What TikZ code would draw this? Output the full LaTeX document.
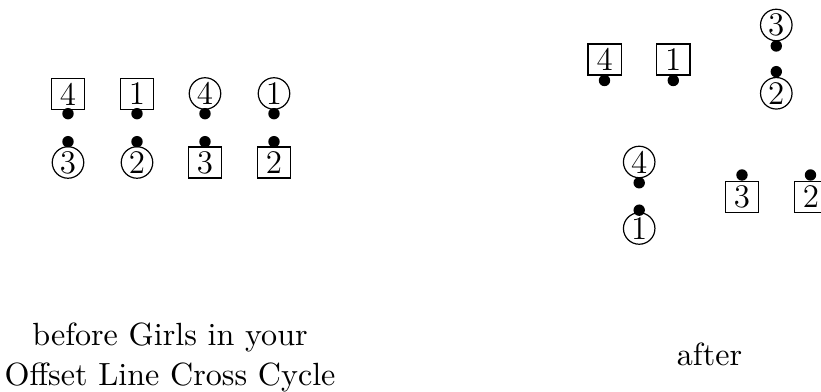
\documentclass[tikz,border=0pt]{standalone}
\begin{document}
\begin{tikzpicture}[x=0.3333pt,y=-0.3333pt,
  sq/.style={draw,rectangle,inner sep=0pt,minimum width=11.1pt,minimum height=10.3pt,font=\fontsize{11}{13}\selectfont},
  cir/.style={draw,circle,inner sep=0pt,minimum size=10.5pt,font=\fontsize{11}{13}\selectfont},
  dot/.style={fill,circle,inner sep=0pt,minimum size=3.8pt},
  lbl/.style={inner sep=0pt,font=\fontsize{10.7}{13.3}\selectfont,align=center}]
\clip (0,0) rectangle (821,392);
% before
\node[sq]  (b4)  at (68,94)  {4};
\node[sq]  (b1)  at (137,94) {1};
\node[cir] (b4c) at (205,93.5)   {4};
\node[cir] (b1c) at (274,93.5)   {1};
\node[cir] (b3c) at (68,162.5)   {3};
\node[cir] (b2c) at (137,162.5)  {2};
\node[sq]  (b3)  at (205,162.5) {3};
\node[sq]  (b2)  at (274,162.5) {2};
\node[dot] (db4)  at (68,113.7)  {};
\node[dot] (db1)  at (137,113.7) {};
\node[dot] (db4c) at (205,113.7) {};
\node[dot] (db1c) at (274,113.7) {};
\node[dot] (db3c) at (68,141.7)  {};
\node[dot] (db2c) at (137,141.7) {};
\node[dot] (db3)  at (205,141.7) {};
\node[dot] (db2)  at (274,141.7) {};
% after
\node[sq]  (a4)  at (604.7,59.5) {4};
\node[sq]  (a1)  at (673.3,59.5) {1};
\node[cir] (a3c) at (776.3,25)   {3};
\node[cir] (a2c) at (776.3,93.3) {2};
\node[cir] (a4c) at (639.2,162) {4};
\node[cir] (a1c) at (639.2,228.5) {1};
\node[sq]  (a3)  at (742,196.7)  {3};
\node[sq]  (a2)  at (811,196.7)  {2};
\node[dot] (da4)  at (604.5,80.5) {};
\node[dot] (da1)  at (673.3,80.5) {};
\node[dot] (da3c) at (776.3,46)   {};
\node[dot] (da2c) at (776.3,71.7) {};
\node[dot] (da4c) at (639.2,182.8)  {};
\node[dot] (da1c) at (639.2,210.2) {};
\node[dot] (da3)  at (742,175)    {};
\node[dot] (da2)  at (810.5,175)  {};
% labels
\node[lbl,anchor=north] (tb) at (170,322.7) {before Girls in your\\Offset Line Cross Cycle};
\node[lbl,anchor=base]  (ta) at (709.5,366) {after};
\end{tikzpicture}
\end{document}
